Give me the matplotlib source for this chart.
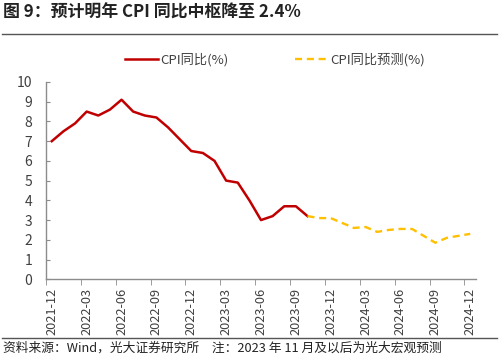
import matplotlib
matplotlib.use("Agg")
import matplotlib.pyplot as plt
from matplotlib.lines import Line2D

plt.rcParams['font.family'] = ['Noto Sans CJK SC', 'DejaVu Sans']

months = [f"{y}-{m:02d}" for y in (2021, 2022, 2023, 2024) for m in range(1, 13)][11:]  # 2021-12 .. 2024-12
cpi_actual = [7.0, 7.5, 7.9, 8.5, 8.3, 8.6, 9.1, 8.5, 8.3, 8.2, 7.7, 7.1,
              6.5, 6.4, 6.0, 5.0, 4.9, 4.0, 3.0, 3.2, 3.7, 3.7, 3.2]          # 2021-12 .. 2023-10
cpi_forecast = [3.2, 3.1, 3.1, 2.85, 2.6, 2.65, 2.4, 2.5, 2.55, 2.55, 2.2, 1.85,
                2.1, 2.2, 2.3]                                                  # 2023-10 .. 2024-12
tick_labels = months[::3]

title = "图 9：预计明年 CPI 同比中枢降至 2.4%"
footer = "资料来源：Wind，光大证券研究所　注：2023 年 11 月及以后为光大宏观预测"
legend_labels = ["CPI同比(%)", "CPI同比预测(%)"]

RED = "#C00000"
YEL = "#FFC000"
TXT = "#404040"
AX = "#8c8c8c"

fig = plt.figure(figsize=(5.0, 3.58), dpi=100)
ax = fig.add_axes([0.092, 0.22, 0.86, 0.551])

x_act = list(range(len(cpi_actual)))
x_fc = list(range(len(cpi_actual) - 1, len(cpi_actual) - 1 + len(cpi_forecast)))
ax.plot(x_act, cpi_actual, color=RED, lw=1.8, solid_joinstyle='round')
ax.plot(x_fc, cpi_forecast, color=YEL, lw=1.7, ls=(0, (3, 2)))

ax.set_xlim(-0.5, len(months) - 0.5)
ax.set_ylim(0, 10)
ax.set_yticks(range(0, 11))
ax.tick_params(axis='y', direction='in', length=3, color=AX, labelsize=10,
               labelcolor=TXT, pad=10)

pos = list(range(0, len(months), 3))
ax.set_xticks(pos)
ax.set_xticklabels(tick_labels, rotation=90, fontsize=9.2, color=TXT)
ax.tick_params(axis='x', length=0, pad=6)
ax.set_xticks([p - 0.5 for p in pos], minor=True)
ax.tick_params(axis='x', which='minor', direction='out', length=4, color=AX)

for s in ('top', 'right'):
    ax.spines[s].set_visible(False)
for s in ('left', 'bottom'):
    ax.spines[s].set_color(AX)
    ax.spines[s].set_linewidth(1.0)

handles = [Line2D([], [], color=RED, lw=1.8),
           Line2D([], [], color=YEL, lw=1.7, ls=(0, (3, 2)))]
fig.legend(handles, legend_labels, loc='center', bbox_to_anchor=(0.55, 1 - 60 / 358),
           ncol=2, frameon=False, fontsize=9.5, handlelength=2.5, handletextpad=0.2,
           columnspacing=5.0, labelcolor=TXT)

fig.text(0.006, 1 - 13 / 358, title, fontsize=12.2, fontweight='bold', color='#222222',
         va='center', ha='left')
fig.add_artist(Line2D([0.004, 0.994], [1 - 34 / 358] * 2, color='#555555', lw=1.0))
fig.add_artist(Line2D([0.004, 0.994], [1 - 338 / 358] * 2, color='#555555', lw=1.0))
fig.text(0.006, 1 - 348.5 / 358, footer, fontsize=9.2, color='#222222', va='center', ha='left')

fig.savefig("out.png", dpi=100)
